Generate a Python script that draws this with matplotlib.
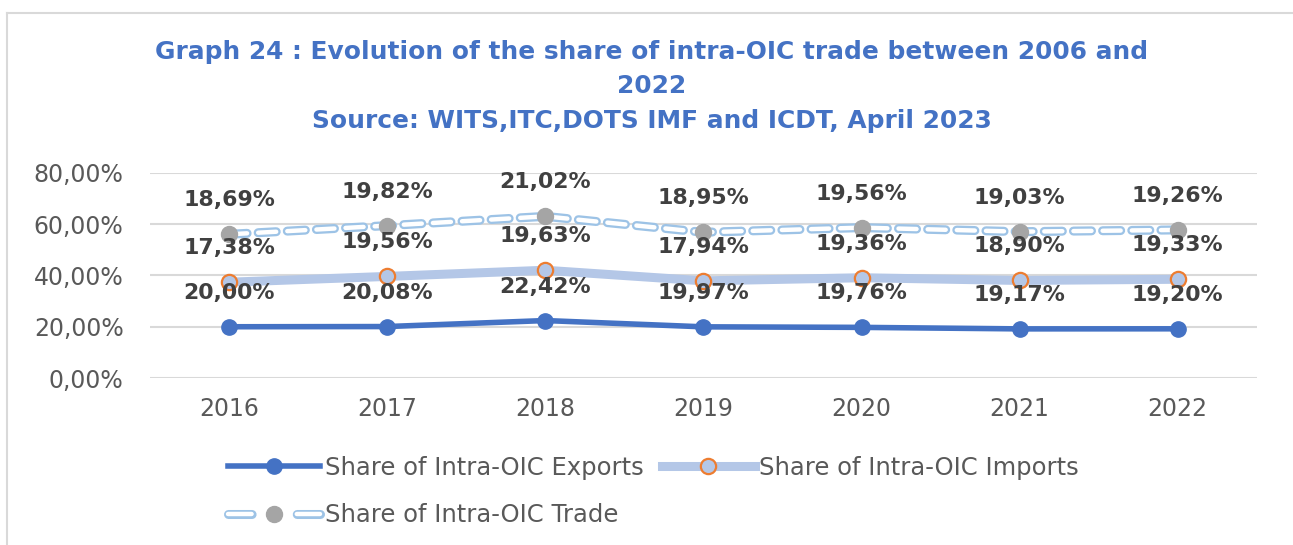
import matplotlib
matplotlib.use('Agg')
import matplotlib.pyplot as plt
from matplotlib.lines import Line2D
import numpy as np

# Chart data (shares in %)
years = ['2016', '2017', '2018', '2019', '2020', '2021', '2022']
exports = [20.00, 20.08, 22.42, 19.97, 19.76, 19.17, 19.20]
imports = [17.38, 19.56, 19.63, 17.94, 19.36, 18.90, 19.33]
trade = [18.69, 19.82, 21.02, 18.95, 19.56, 19.03, 19.26]
yticks = [0, 20, 40, 60, 80]

BLUE = '#4472C4'
LIGHT = '#B4C7E7'
DASH = '#9DC3E6'
ORANGE = '#ED7D31'
GREY = '#A5A5A5'

plt.rcParams['font.family'] = ['DejaVu Sans']
plt.rcParams['lines.scale_dashes'] = False


def pct(v):
    return ('%.2f%%' % v).replace('.', ',')


fig = plt.figure(figsize=(12.93, 5.45), dpi=100)
ax = fig.add_axes([0.116, 0.3064, 0.856, 0.3762])

x = np.arange(len(years))
exp = np.array(exports)
imp_stack = exp + np.array(imports)
trd_stack = imp_stack + np.array(trade)

# stacked lines, like the Excel "stacked line" chart
ax.plot(x, exp, color=BLUE, lw=4, marker='o', ms=11, mfc=BLUE, mec=BLUE,
        solid_capstyle='round', zorder=4)
ax.plot(x, imp_stack, color=LIGHT, lw=6.5, marker='o', ms=11, mfc=LIGHT,
        mec=ORANGE, mew=1.6, solid_capstyle='round', zorder=3)
# hollow dashes: wide light-blue dash with a white core
ax.plot(x, trd_stack, color=DASH, lw=6.5, dashes=(13, 8),
        dash_capstyle='round', zorder=2)
ax.plot(x, trd_stack, color='white', lw=3.2, dashes=(13, 8),
        dash_capstyle='round', zorder=2)
ax.plot(x, trd_stack, ls='none', marker='o', ms=11.5, mfc=GREY, mec=GREY, zorder=5)

for vals, ys in ((exports, exp), (imports, imp_stack), (trade, trd_stack)):
    for xi, v, yv in zip(x, vals, ys):
        ax.annotate(pct(v), (xi, yv), xytext=(0, 24.5), textcoords='offset points',
                    ha='center', va='center', fontsize=15.8, fontweight='bold',
                    color='#404040', zorder=6)

ax.set_xlim(-0.5, len(years) - 0.5)
ax.set_ylim(0, 80)
ax.set_yticks(yticks)
ax.set_yticklabels([pct(t) for t in yticks])
ax.set_xticks(x)
ax.set_xticklabels(years)
ax.tick_params(length=0, labelsize=17, labelcolor='#595959')
ax.tick_params(axis='x', pad=14)
ax.tick_params(axis='y', pad=19)
ax.grid(axis='y', color='#D9D9D9', lw=1.5)
ax.set_axisbelow(True)
for s in ax.spines.values():
    s.set_visible(False)

# title, three lines
tkw = dict(ha='center', va='center', color=BLUE, fontsize=17.9, fontweight='bold')
fig.text(0.504, 1 - 52 / 545, 'Graph 24 : Evolution of the share of intra-OIC trade between 2006 and', **tkw)
fig.text(0.504, 1 - 86 / 545, '2022', **tkw)
fig.text(0.504, 1 - 121 / 545, 'Source: WITS,ITC,DOTS IMF and ICDT, April 2023', **tkw)

# legend: Exports / Imports on first row, Trade on second
h_exp = Line2D([], [], color=BLUE, lw=4, marker='o', ms=11, mfc=BLUE, mec=BLUE)
h_imp = Line2D([], [], color=LIGHT, lw=6.5, marker='o', ms=11, mfc=LIGHT,
               mec=ORANGE, mew=1.6)
h_trd = (Line2D([], [], color=DASH, lw=6.5, dashes=(17, 32.5), dash_capstyle='round'),
         Line2D([], [], color='white', lw=3.2, dashes=(17, 32.5), dash_capstyle='round'),
         Line2D([], [], ls='none', marker='o', ms=11.5, mfc=GREY, mec=GREY))
fig.legend([h_exp, h_trd, h_imp],
           ['Share of Intra-OIC Exports', 'Share of Intra-OIC Trade', 'Share of Intra-OIC Imports'],
           ncol=2, loc='upper left', bbox_to_anchor=(228 / 1293, 1 - 456 / 545),
           frameon=False, fontsize=17.5, labelcolor='#595959', handlelength=3.8,
           handletextpad=0.2, columnspacing=0.75, labelspacing=0.95, borderpad=0,
           borderaxespad=0)

# chart area border (top and left edges visible)
fig.add_artist(Line2D([7 / 1293, 1], [1 - 13 / 545, 1 - 13 / 545], color='#D9D9D9', lw=1.5))
fig.add_artist(Line2D([7 / 1293, 7 / 1293], [0, 1 - 13 / 545], color='#D9D9D9', lw=1.5))

fig.savefig('out.png', dpi=100)
